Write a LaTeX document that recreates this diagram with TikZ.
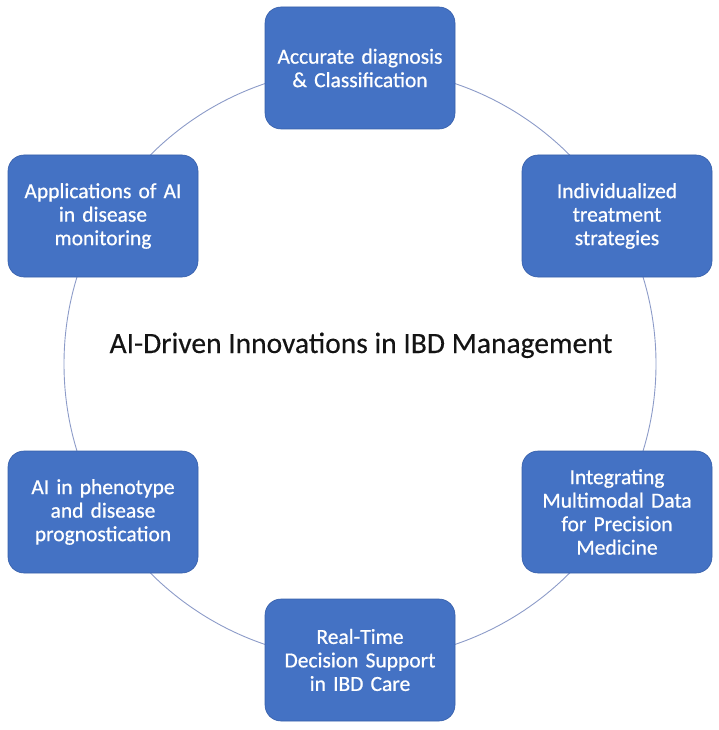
\documentclass[tikz,border=0pt]{standalone}
\usepackage{fontspec}
\setmainfont{Carlito}
\newfontfamily\boxfont{Carlito}[FakeBold=0.7]
\newfontfamily\titlefont{Carlito}[FakeBold=0.3]
\definecolor{boxblue}{RGB}{68,114,196}
\definecolor{boxedge}{RGB}{55,95,170}
\definecolor{ringcol}{RGB}{140,155,200}
\definecolor{titlecol}{RGB}{20,20,20}
\begin{document}
\begin{tikzpicture}[x=1pt,y=1pt,
  stage/.style={draw=boxedge, line width=0.6pt, fill=boxblue, rounded corners=16pt,
    minimum width=190pt, minimum height=122pt, text width=186pt, align=center,
    text=white, font=\boxfont\fontsize{21.5}{23.5}\selectfont, inner sep=0pt},
  ring/.style={draw=ringcol, line width=0.9pt}]
\useasboundingbox (0,0) rectangle (719,-730);
\coordinate (c) at (360,-364);
\draw[ring] (c) circle[radius=296pt];
\node[stage] (n1) at (360,-68) {Accurate diagnosis\\\& Classification};
\node[stage] (n2) at (617,-216) {Individualized\\treatment\\strategies};
\node[stage] (n3) at (617,-512) {Integrating\\Multimodal Data\\for Precision\\Medicine};
\node[stage] (n4) at (360,-660) {Real-Time\\Decision Support\\in IBD Care};
\node[stage] (n5) at (103,-512) {AI in phenotype\\and disease\\prognostication};
\node[stage] (n6) at (103,-216) {Applications of AI\\in disease\\monitoring};
\node[font=\titlefont\fontsize{29.5}{33}\selectfont, text=titlecol, anchor=base] (title) at (361,-353) {AI-Driven Innovations in IBD Management};
\end{tikzpicture}
\end{document}
